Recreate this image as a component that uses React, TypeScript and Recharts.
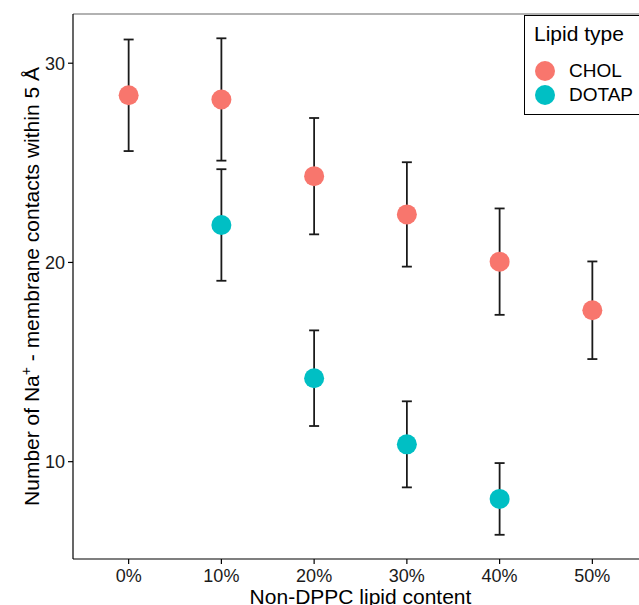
import { ScatterChart, Scatter, XAxis, YAxis, ErrorBar, ReferenceLine } from "recharts";

const categories = ["0%", "10%", "20%", "30%", "40%", "50%"];
const cholMean = [28.39, 28.18, 24.33, 22.41, 20.04, 17.6];
const cholErr = [2.8, 3.07, 2.92, 2.62, 2.67, 2.45];
const dotapMean: (number | null)[] = [null, 21.88, 14.19, 10.87, 8.13, null];
const dotapErr: (number | null)[] = [null, 2.8, 2.4, 2.16, 1.8, null];
const yTicks = [10, 20, 30];

const FONT = "'Liberation Sans', Arial, sans-serif";
const CHOL_COLOR = "#F8766D";
const DOTAP_COLOR = "#00BFC4";
const Y_DOMAIN: [number, number] = [5.115, 32.47];

const build = (mean: (number | null)[], err: (number | null)[]) =>
  categories
    .map((c, i) => ({ x: i, label: c, y: mean[i], err: err[i] }))
    .filter((d) => d.y != null);

const cholData = build(cholMean, cholErr);
const dotapData = build(dotapMean, dotapErr);

const dot = (fill: string) => (props: any) =>
  <circle cx={props.cx} cy={props.cy} r={10} fill={fill} />;

const YTitle = ({ viewBox }: any) => {
  const cy = viewBox.y + viewBox.height / 2;
  const cx = 39;
  return (
    <text
      x={cx}
      y={cy}
      transform={`rotate(-90, ${cx}, ${cy})`}
      textAnchor="middle"
      fontFamily={FONT}
      fontSize={21}
      fill="#000"
    >
      Number of Na
      <tspan dy={-8} fontSize={14}>+</tspan>
      <tspan dy={8}> - membrane contacts within 5 Å</tspan>
    </text>
  );
};

export default function App() {
  return (
    <div
      style={{
        position: "fixed", top: 0, left: 0, width: 639, height: 605,
        overflow: "hidden", background: "#fff",
      }}
    >
      <ScatterChart width={660} height={605} margin={{ top: 14, right: 12, bottom: 0, left: 0 }}>
        <XAxis
          type="number"
          dataKey="x"
          domain={[-0.6, 5.6]}
          ticks={[0, 1, 2, 3, 4, 5]}
          tickFormatter={(v: number) => categories[v]}
          allowDataOverflow
          height={46}
          tickSize={5}
          tickMargin={5}
          axisLine={{ stroke: "#000", strokeWidth: 1.2 }}
          tickLine={{ stroke: "#000", strokeWidth: 1.2 }}
          tick={{ fill: "#1a1a1a", fontFamily: FONT, fontSize: 18 }}
          label={{
            value: "Non-DPPC lipid content", position: "insideBottom", offset: 1,
            fill: "#000", fontFamily: FONT, fontSize: 21,
          }}
        />
        <YAxis
          type="number"
          dataKey="y"
          domain={Y_DOMAIN}
          ticks={yTicks}
          allowDataOverflow
          width={73}
          tickSize={5}
          tickMargin={3}
          axisLine={{ stroke: "#000", strokeWidth: 1.2 }}
          tickLine={{ stroke: "#000", strokeWidth: 1.2 }}
          tick={{ fill: "#1a1a1a", fontFamily: FONT, fontSize: 18 }}
          label={<YTitle />}
        />
        <ReferenceLine y={Y_DOMAIN[1]} stroke="#999" strokeWidth={1.5} ifOverflow="extendDomain" />
        <Scatter data={cholData} shape={dot(CHOL_COLOR)} isAnimationActive={false}>
          <ErrorBar dataKey="err" direction="y" width={5} stroke="#1a1a1a" strokeWidth={1.8} />
        </Scatter>
        <Scatter data={dotapData} shape={dot(DOTAP_COLOR)} isAnimationActive={false}>
          <ErrorBar dataKey="err" direction="y" width={5} stroke="#1a1a1a" strokeWidth={1.8} />
        </Scatter>
      </ScatterChart>
      <div
        style={{
          position: "absolute", left: 524, top: 15, width: 140, height: 100,
          border: "1.3px solid #000", fontFamily: FONT, color: "#000", boxSizing: "border-box",
        }}
      >
        <div style={{ position: "absolute", left: 9, top: 6, fontSize: 21 }}>Lipid type</div>
        {[
          { name: "CHOL", color: CHOL_COLOR, top: 55 },
          { name: "DOTAP", color: DOTAP_COLOR, top: 79 },
        ].map((it) => (
          <div key={it.name}>
            <span
              style={{
                position: "absolute", left: 10, top: it.top - 10, width: 20, height: 20,
                borderRadius: 10, background: it.color,
              }}
            />
            <span style={{ position: "absolute", left: 44, top: it.top - 12, fontSize: 19, lineHeight: "24px" }}>
              {it.name}
            </span>
          </div>
        ))}
      </div>
    </div>
  );
}
